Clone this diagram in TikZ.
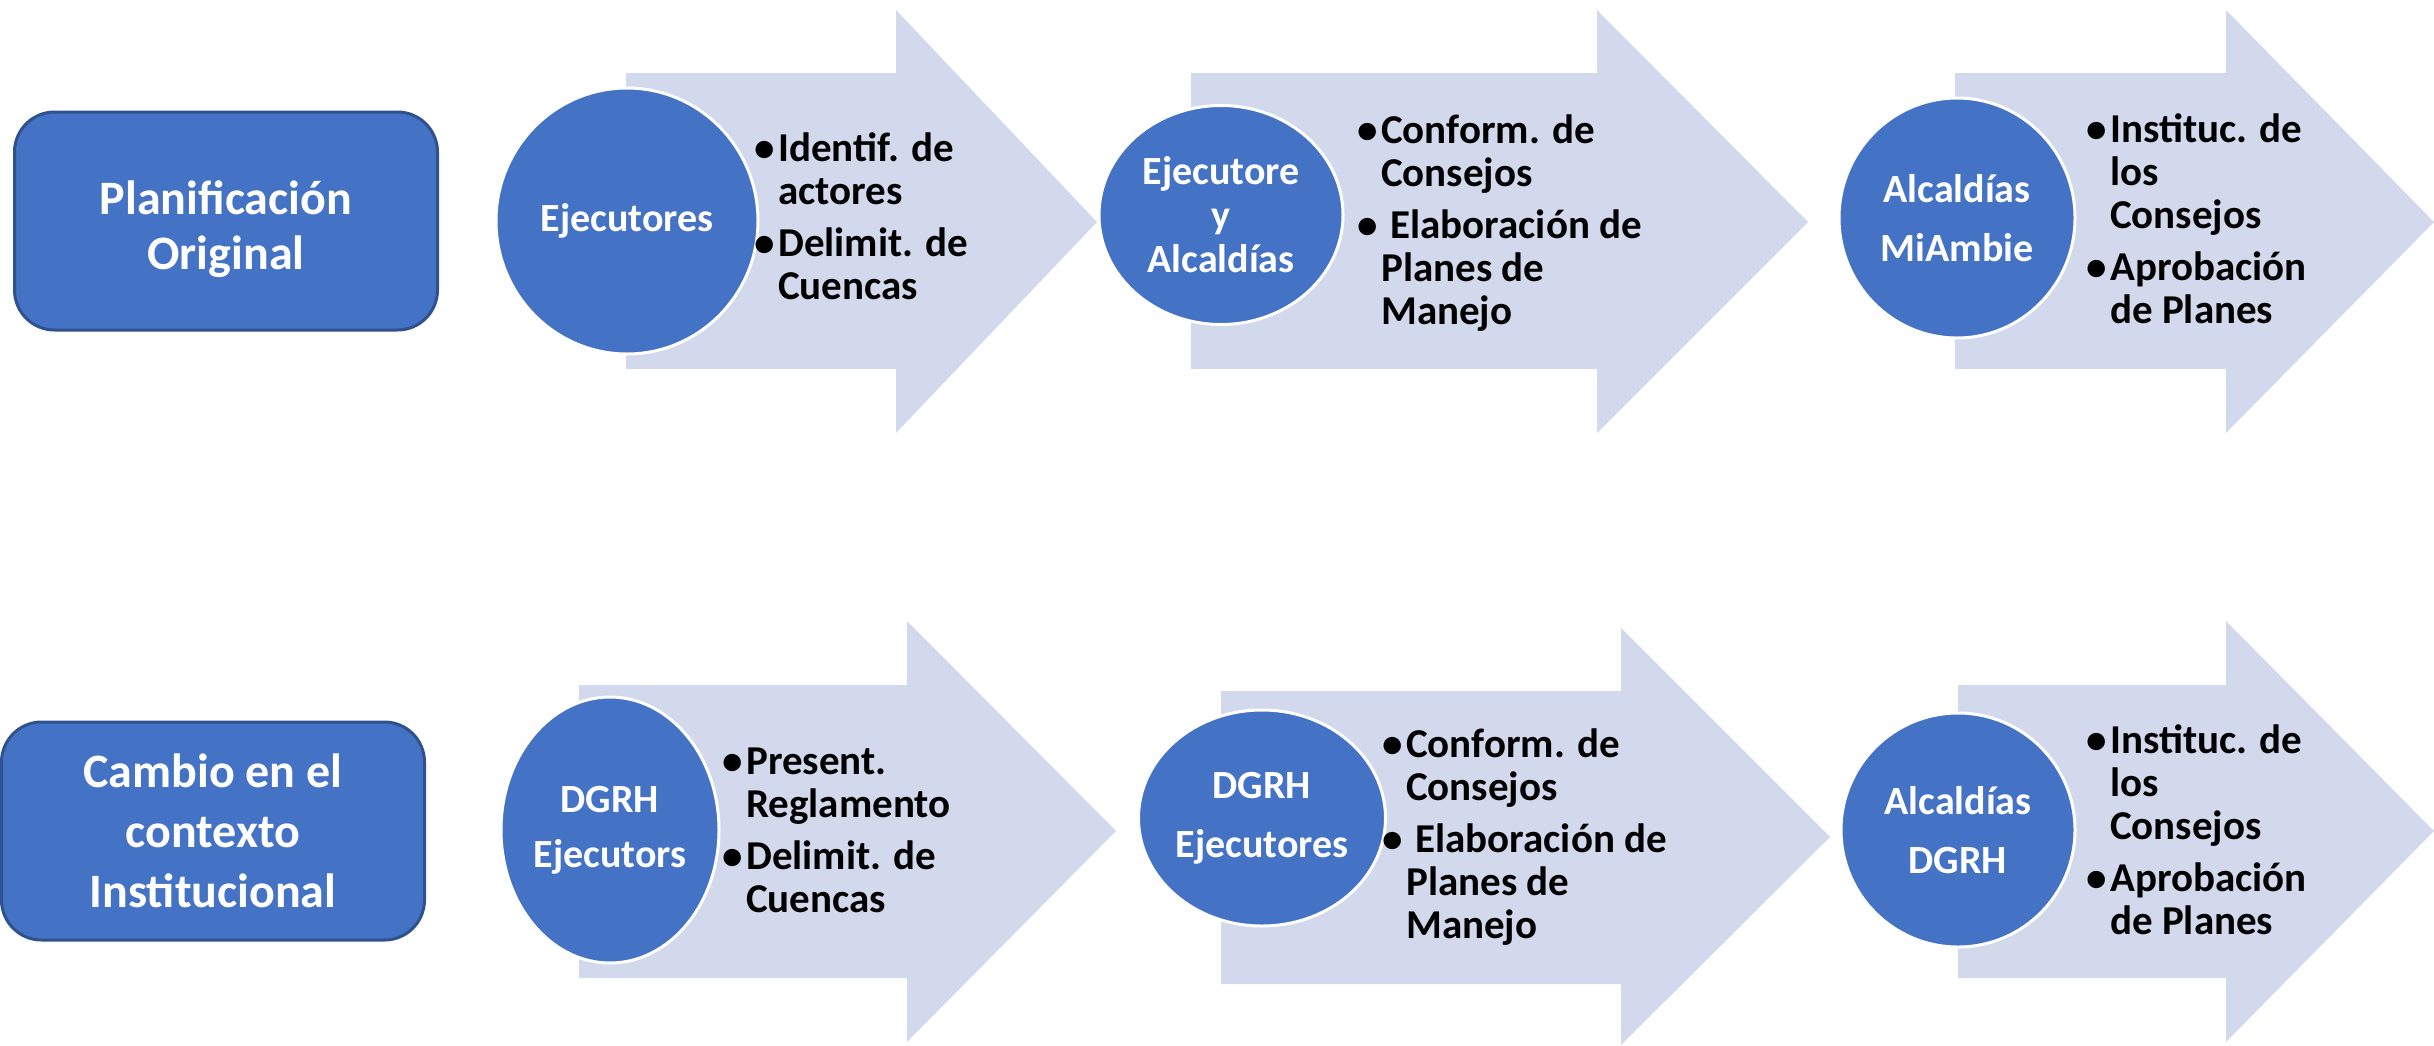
\documentclass[tikz,border=0pt]{standalone}
\usepackage{fontspec}
\setmainfont{Carlito}
\usepackage{xcolor}
\usepackage{tikz}
\usetikzlibrary{shapes.geometric}

\definecolor{azul}{HTML}{4472C4}
\definecolor{azulborde}{HTML}{2F528F}
\definecolor{lavanda}{RGB}{210,217,236}

\newcommand{\itm}{\strut\llap{\textbullet\hspace{3pt}}}

\begin{document}
\begin{tikzpicture}[x=1pt,y=1pt,yscale=-1,
    caja/.style={draw=azulborde, line width=3pt, fill=azul, rounded corners=40pt, minimum width=423pt, minimum height=218pt, text=white, align=center, font=\bfseries\fontsize{48}{56}\selectfont},
    elipse/.style={ellipse, draw=white, line width=3pt, fill=azul, inner sep=0pt, text=white, align=center, font=\bfseries\fontsize{40}{44}\selectfont},
    lista/.style={anchor=north west, inner sep=0pt, align=left, font=\bfseries\fontsize{41}{43}\selectfont},
    flecha/.style={fill=lavanda}]
    \useasboundingbox (0,0) rectangle (2434,1045);

        % flechas
        \fill[flecha] (626,73) -- (896,73) -- (896,10) -- (1097,222) -- (896,433) -- (896,369) -- (626,369) -- cycle;
        \fill[flecha] (1191,73) -- (1597,73) -- (1597,10) -- (1808,222) -- (1597,433) -- (1597,369) -- (1191,369) -- cycle;
        \fill[flecha] (1955,73) -- (2226,73) -- (2226,10) -- (2434,222) -- (2226,433) -- (2226,369) -- (1955,369) -- cycle;
        \fill[flecha] (579,685) -- (907,685) -- (907,621) -- (1116,831) -- (907,1042) -- (907,978) -- (579,978) -- cycle;
        \fill[flecha] (1221,691) -- (1621,691) -- (1621,628) -- (1830,837) -- (1621,1045) -- (1621,984) -- (1221,984) -- cycle;
        \fill[flecha] (1958,685) -- (2226,685) -- (2226,621) -- (2434,831) -- (2226,1042) -- (2226,978) -- (1958,978) -- cycle;

        % fila superior
        \node[caja] (original) at (226,221) {\rule{0pt}{50pt}Planificación\\[-1pt]Original};
        \node[elipse, minimum width=262pt, minimum height=266pt] (ejecutores) at (627,221) {Ejecutores};
        \node[elipse, minimum width=244pt, minimum height=219pt] (ejalcaldias) at (1221,215) {Ejecutore\\y\\Alcaldías};
        \node[elipse, minimum width=236pt, minimum height=240pt] (miambie) at (1957,218) {Alcaldías\\[15pt]MiAmbie};

        \node[lista] (tareas1) at (778,131) {\itm Identif. de\\actores\\[9pt]\itm Delimit. de\\Cuencas};
        \node[lista] (tareas2) at (1381,113) {\itm Conform. de\\Consejos\\[9pt]\itm\ Elaboración de\\Planes de\\Manejo};
        \node[lista] (tareas3) at (2110,112) {\itm Instituc. de\\los\\Consejos\\[9pt]\itm Aprobación\\de Planes};

        % fila inferior
        \node[caja] (cambio) at (213,831) {Cambio en el\\[4pt]contexto\\[4pt]Institucional};
        \node[elipse, minimum width=218pt, minimum height=266pt] (dgrh1) at (610,830) {DGRH\\[11pt]Ejecutors};
        \node[elipse, minimum width=247pt, minimum height=216pt] (dgrh2) at (1262,818) {DGRH\\[15pt]Ejecutores};
        \node[elipse, minimum width=234pt, minimum height=234pt] (dgrh3) at (1958,830) {Alcaldías\\[15pt]DGRH};

        \node[lista] (tareas4) at (746,744) {\itm Present.\\Reglamento\\[9pt]\itm Delimit. de\\Cuencas};
        \node[lista] (tareas5) at (1406,727) {\itm Conform. de\\Consejos\\[9pt]\itm\ Elaboración de\\Planes de\\Manejo};
        \node[lista] (tareas6) at (2110,723) {\itm Instituc. de\\los\\Consejos\\[9pt]\itm Aprobación\\de Planes};
\end{tikzpicture}
\end{document}
